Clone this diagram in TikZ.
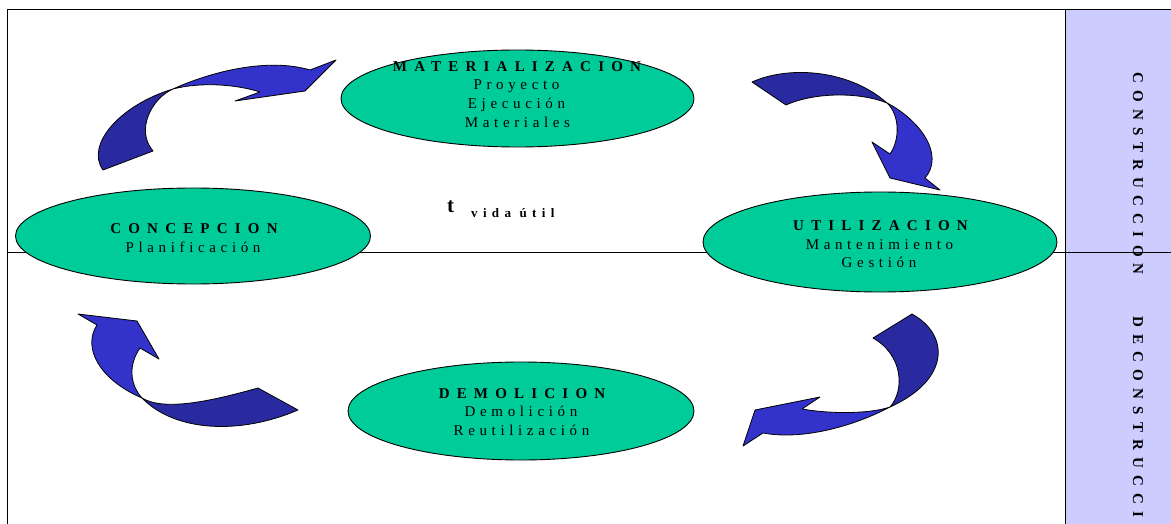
\documentclass[tikz,border=0pt]{standalone}
\usepackage{fontspec}
\setmainfont{Liberation Serif}
\newfontfamily\headfont[LetterSpace=48]{Liberation Serif}
\newfontfamily\bodyfont[LetterSpace=31]{Liberation Serif}
\newfontfamily\lifefont[LetterSpace=41]{Liberation Serif}
\usetikzlibrary{shapes.geometric}
\definecolor{stagegreen}{RGB}{0,204,153}
\definecolor{arrowback}{RGB}{42,42,160}
\definecolor{arrowfront}{RGB}{51,51,204}
\definecolor{phasepanel}{RGB}{204,204,255}
\begin{document}
\begin{tikzpicture}[x=1pt,y=-1pt,
  frame/.style={draw=black, line width=1pt},
  stage/.style={ellipse, draw=black, line width=0.9pt, fill=stagegreen, inner sep=0pt},
  stagehead/.style={anchor=base, inner sep=0pt, font=\headfont\bfseries\fontsize{15}{15}\selectfont},
  stageline/.style={anchor=base, inner sep=0pt, font=\bodyfont\fontsize{15}{15}\selectfont},
  back/.style={fill=arrowback, draw=black, line width=0.8pt, line join=round},
  front/.style={fill=arrowfront, draw=black, line width=0.8pt, line join=round}]
\useasboundingbox (0,0) rectangle (1171,524);

% phase panel on the right
\fill[phasepanel] (1065,10) rectangle (1171,524);
\begin{scope}
  \clip (1065,10) rectangle (1171,524);
  \node[rotate=-90, anchor=west, inner sep=0pt,
        font=\headfont\bfseries\fontsize{15}{15}\selectfont] (phase) at (1138,72)
       {CONSTRUCCION\hspace*{42pt}DECONSTRUCCION};
\end{scope}

% frame and dividing line
\draw[frame] (7,524) -- (7,10) -- (1171,10);
\draw[frame] (1065,10) -- (1065,524);
\draw[draw=black, line width=0.9pt] (7,252) -- (1171,252);

% life-cycle stages
\node[stage, minimum width=353pt, minimum height=97pt] (mat) at (517.5,98.5) {};
\node[stage, minimum width=355pt, minimum height=96pt] (con) at (193,236) {};
\node[stage, minimum width=354pt, minimum height=100pt] (uti) at (880,242) {};
\node[stage, minimum width=346pt, minimum height=98pt] (dem) at (521,411) {};

\node[stagehead] (matT) at (517,71.7) {MATERIALIZACION};
\node[stageline] (matA) at (516.5,90) {Proyecto};
\node[stageline] (matB) at (516.5,109) {Ejecución};
\node[stageline] (matC) at (517.5,127.3) {Materiales};

\node[stagehead] (conT) at (194,233.3) {CONCEPCION};
\node[stageline] (conA) at (193,252.7) {Planificación};

\node[stagehead] (utiT) at (880.5,230.7) {UTILIZACION};
\node[stageline] (utiA) at (879.5,249) {Mantenimiento};
\node[stageline] (utiB) at (879,267.7) {Gestión};

\node[stagehead] (demT) at (522,398.3) {DEMOLICION};
\node[stageline] (demA) at (521,416.7) {Demolición};
\node[stageline] (demB) at (521.5,435) {Reutilización};

% service life label
\node[anchor=base west, inner sep=0pt, font=\bfseries\fontsize{21}{21}\selectfont] (tmark) at (447,212.3) {t};
\node[anchor=base west, inner sep=0pt, font=\lifefont\bfseries\fontsize{13}{13}\selectfont] (life) at (471,217.3) {vida útil};

% curved arrows: concepcion -> materializacion
\path[back] (103,170) .. controls (85,145) and (120,105) .. (173,89)
  .. controls (152,98) and (135,130) .. (153,151) -- cycle;
\path[front] (173,89) .. controls (215,70) and (270,58) .. (310,70)
  -- (336,60) -- (305,91) -- (235,101) -- (260,92)
  .. controls (235,84) and (200,82) .. (173,89) -- cycle;

% materializacion -> utilizacion
\path[back] (752,82) .. controls (790,65) and (850,70) .. (887,103)
  .. controls (860,92) and (815,92) .. (786,105) -- cycle;
\path[front] (887,103) .. controls (920,120) and (945,155) .. (925,178)
  -- (940,190) -- (890,178) -- (872,142) -- (890,154)
  .. controls (900,140) and (900,115) .. (887,103) -- cycle;

% utilizacion -> demolicion
\path[back] (912,314) .. controls (950,335) and (950,380) .. (890,407)
  .. controls (905,390) and (903,355) .. (873,338) -- cycle;
\path[front] (890,407) .. controls (850,428) and (800,440) .. (763,433)
  -- (743,446) -- (755,410) -- (820,397) -- (802,409)
  .. controls (830,414) and (870,414) .. (890,407) -- cycle;

% demolicion -> concepcion
\path[back] (298,410) .. controls (240,435) and (175,432) .. (142,398)
  .. controls (165,412) and (215,400) .. (258,388) -- cycle;
\path[front] (142,398) .. controls (100,380) and (82,348) .. (97,325)
  -- (78,314) -- (137,321) -- (159,359) -- (140,348)
  .. controls (128,365) and (130,385) .. (142,398) -- cycle;
\end{tikzpicture}
\end{document}
